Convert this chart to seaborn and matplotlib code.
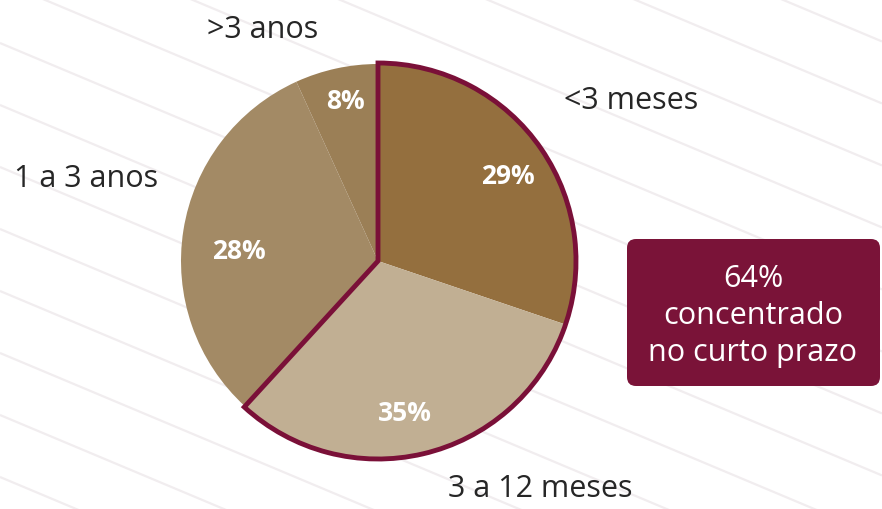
import numpy as np
import pandas as pd
import matplotlib
matplotlib.use("Agg")
import matplotlib.pyplot as plt
from matplotlib.patches import Wedge, FancyBboxPatch
import seaborn as sns

# ---- data ----
categories = ["<3 meses", "3 a 12 meses", "1 a 3 anos", ">3 anos"]
slice_shares = [30.2, 31.6, 31.4, 6.8]          # slice sizes as drawn
pct_labels = ["29%", "35%", "28%", "8%"]         # printed labels
slice_colors = ["#946F3E", "#C1AF93", "#A38A65", "#9B7F56"]
highlight_n = 2                                  # first two slices outlined
box_lines = ["64%", "concentrado", "no curto prazo"]

sns.set_theme(style="white")
plt.rcParams["font.family"] = ["Open Sans", "DejaVu Sans"]

W, H = 882, 510
fig = plt.figure(figsize=(8.82, 5.10), dpi=100)
ax = fig.add_axes([0, 0, 1, 1])
fig.patch.set_facecolor("white")

def Y(y):
    return H - y

# background diagonal lines
slope = 0.42
for k in range(-8, 10):
    y0 = 44 + 62 * k
    ax.plot([0, W], [Y(y0), Y(y0 + slope * W)], color="#F1EDEF", lw=1.6,
            zorder=0, solid_capstyle="butt")

cx, cy, R = 378, Y(262), 197
wedges, _ = ax.pie(slice_shares, colors=slice_colors, startangle=90,
                   counterclock=False, center=(cx, cy), radius=R,
                   wedgeprops=dict(linewidth=0, zorder=2), frame=True)

# outline of short-term share
total = sum(slice_shares)
span = 360 * sum(slice_shares[:highlight_n]) / total
ax.add_patch(Wedge((cx, cy), R + 1, 90 - span, 90, fill=False,
                   edgecolor="#7A1038", lw=3.5, zorder=3,
                   joinstyle="miter"))

# percentage labels (radial factor, angular offset in degrees)
rfac = [0.79, 0.78, 0.71, 0.83]
aoff = [-2.4, -4.3, 4.5, -0.6]
for w, lab, rf, da in zip(wedges, pct_labels, rfac, aoff):
    mid = np.deg2rad((w.theta1 + w.theta2) / 2 + da)
    ax.text(cx + rf * R * np.cos(mid), cy + rf * R * np.sin(mid), lab,
            color="white", fontsize=19, fontweight="bold",
            ha="center", va="center", zorder=4)

# category labels
label_pos = {"<3 meses": (631, 101), "3 a 12 meses": (540, 489),
             "1 a 3 anos": (86, 179), ">3 anos": (263, 30)}
for c in categories:
    x, y = label_pos[c]
    ax.text(x, Y(y), c, color="#262626", fontsize=22,
            ha="center", va="center", zorder=4)

# highlight box
bx0, by0, bx1, by1 = 627, 240, 880, 387
ax.add_patch(FancyBboxPatch((bx0 + 8, Y(by1) + 8), bx1 - bx0 - 16,
                            by1 - by0 - 16,
                            boxstyle="round,pad=8,rounding_size=9",
                            facecolor="#7A1338", edgecolor="none", zorder=3))
for txt, yy in zip(box_lines, [279, 316, 353]):
    ax.text(753, Y(yy), txt, color="white", fontsize=22,
            ha="center", va="center", zorder=4)

ax.set_xlim(0, W)
ax.set_ylim(0, H)
ax.set_aspect("auto")
ax.axis("off")
fig.savefig("out.png", dpi=100, facecolor="white")
